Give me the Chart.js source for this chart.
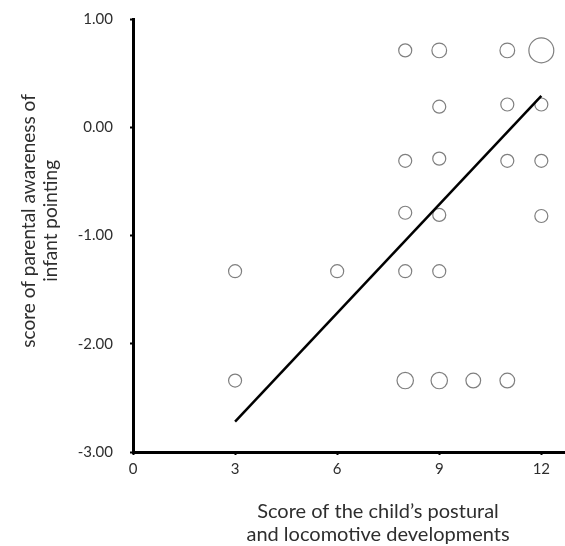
<!DOCTYPE html>
<html><head><meta charset="utf-8">
<script src="https://cdn.jsdelivr.net/npm/chart.js@4"></script>
<style>
html,body{margin:0;padding:0;background:#fff;overflow:hidden;width:565px;height:546px}
#wrap{width:623px;height:546px}
</style>
</head><body><div id="wrap"><canvas id="c" width="623" height="546"></canvas></div>
<script>
// Data
const xScores = [8, 9, 11, 12,  9, 11, 12,  8, 9, 11, 12,  8, 9, 12,  3, 6, 8, 9,  3, 8, 9, 10, 11];
const yScores = [0.71, 0.71, 0.71, 0.71,  0.19, 0.21, 0.21,  -0.31, -0.29, -0.31, -0.31,  -0.79, -0.81, -0.82,  -1.33, -1.33, -1.33, -1.33,  -2.34, -2.34, -2.34, -2.34, -2.34];
const counts  = [1, 2, 2, 8,  1, 1, 1,  1, 1, 1, 1,  1, 1, 1,  1, 1, 1, 1,  1, 3, 3, 2, 2];
const fitX = [3, 12];
const fitY = [-2.72, 0.29];
const xTickValues = [0, 3, 6, 9, 12];
const yTickValues = [1, 0, -1, -2, -3];
const xTitle = ['Score of the child\u2019s postural', 'and locomotive developments'];
const yTitle = ['      score of parental awareness of', '      infant pointing'];

const points = xScores.map((x, i) => ({ x: x, y: yScores[i] }));
const fitLine = fitX.map((x, i) => ({ x: x, y: fitY[i] }));
const radiusFor = c => 6.5 + (c - 1) * 0.85;

const textColor = '#2e2e2e';
const fontFamily = 'Lato, "Open Sans", sans-serif';

new Chart(document.getElementById('c'), {
  type: 'scatter',
  data: {
    datasets: [
      {
        type: 'line',
        data: fitLine,
        borderColor: '#000',
        borderWidth: 2.5,
        pointRadius: 0,
        fill: false,
        tension: 0
      },
      {
        data: points,
        pointRadius: ctx => radiusFor(counts[ctx.dataIndex]),
        pointBackgroundColor: 'rgba(255,255,255,0)',
        pointBorderColor: '#7f7f7f',
        pointBorderWidth: 1.2
      }
    ]
  },
  options: {
    responsive: false,
    animation: false,
    layout: { autoPadding: false, padding: { top: 19, left: 0, right: 0, bottom: 0 } },
    plugins: { legend: { display: false }, tooltip: { enabled: false } },
    scales: {
      x: {
        type: 'linear',
        min: 0,
        max: 14.4,
        afterBuildTicks: s => { s.ticks = xTickValues.map(v => ({ value: v })); },
        afterFit: s => { s.height = 94; s.paddingLeft = 0; s.paddingRight = 0; },
        grid: { drawOnChartArea: false, drawTicks: true, tickLength: 3, color: '#000', tickWidth: 2 },
        border: { display: true, color: '#000', width: 3 },
        ticks: { color: textColor, padding: 5, font: { family: fontFamily, size: 15 }, maxRotation: 0 },
        title: { display: true, text: xTitle, color: textColor, padding: { top: 0, bottom: 0 },
                 font: { family: fontFamily, size: 20, lineHeight: 1.15 } }
      },
      y: {
        type: 'linear',
        min: -3,
        max: 1,
        afterBuildTicks: s => { s.ticks = yTickValues.map(v => ({ value: v })); },
        afterFit: s => { s.width = 133; s.paddingTop = 0; s.paddingBottom = 0; },
        grid: { drawOnChartArea: false, drawTicks: true, tickLength: 3, color: '#000', tickWidth: 2 },
        border: { display: true, color: '#000', width: 3 },
        ticks: { color: textColor, padding: 17, font: { family: fontFamily, size: 15 },
                 callback: v => Number(v).toFixed(2) },
        title: { display: true, text: yTitle, color: textColor, padding: { top: 17, bottom: 0 },
                 font: { family: fontFamily, size: 19, lineHeight: 1.2 } }
      }
    }
  }
});
</script>
</body></html>
